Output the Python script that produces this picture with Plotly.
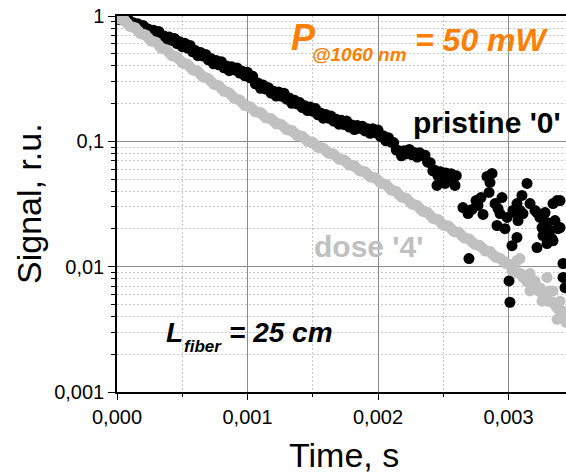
import plotly.graph_objects as go

FONT = "Liberation Sans, Arial, sans-serif"

# ---------------- data (time in s, signal in r.u.) ----------------
time_s = [
    0.00000, 0.00002, 0.00004, 0.00006, 0.00008, 0.00010, 0.00012, 0.00014, 0.00016, 0.00018,
    0.00020, 0.00022, 0.00024, 0.00026, 0.00028, 0.00030, 0.00032, 0.00034, 0.00036, 0.00038,
    0.00040, 0.00042, 0.00044, 0.00046, 0.00048, 0.00050, 0.00052, 0.00054, 0.00056, 0.00058,
    0.00060, 0.00062, 0.00064, 0.00066, 0.00068, 0.00070, 0.00072, 0.00074, 0.00076, 0.00078,
    0.00080, 0.00082, 0.00084, 0.00086, 0.00088, 0.00090, 0.00092, 0.00094, 0.00096, 0.00098,
    0.00100, 0.00102, 0.00104, 0.00106, 0.00108, 0.00110, 0.00112, 0.00114, 0.00116, 0.00118,
    0.00120, 0.00122, 0.00124, 0.00126, 0.00128, 0.00130, 0.00132, 0.00134, 0.00136, 0.00138,
    0.00140, 0.00142, 0.00144, 0.00146, 0.00148, 0.00150, 0.00152, 0.00154, 0.00156, 0.00158,
    0.00160, 0.00162, 0.00164, 0.00166, 0.00168, 0.00170, 0.00172, 0.00174, 0.00176, 0.00178,
    0.00180, 0.00182, 0.00184, 0.00186, 0.00188, 0.00190, 0.00192, 0.00194, 0.00196, 0.00198,
    0.00200, 0.00202, 0.00204, 0.00206, 0.00208, 0.00210, 0.00212, 0.00214, 0.00216, 0.00218,
    0.00220, 0.00222, 0.00224, 0.00226, 0.00228, 0.00230, 0.00232, 0.00234, 0.00236, 0.00238,
    0.00240, 0.00242, 0.00244, 0.00246, 0.00248, 0.00250, 0.00252, 0.00254, 0.00256, 0.00258,
    0.00260, 0.00262, 0.00264, 0.00266, 0.00268, 0.00270, 0.00272, 0.00274, 0.00276, 0.00278,
    0.00280, 0.00282, 0.00284, 0.00286, 0.00288, 0.00290, 0.00292, 0.00294, 0.00296, 0.00298,
    0.00300, 0.00302, 0.00304, 0.00306, 0.00308, 0.00310, 0.00312, 0.00314, 0.00316, 0.00318,
    0.00320, 0.00322, 0.00324, 0.00326, 0.00328, 0.00330, 0.00332, 0.00334, 0.00336, 0.00338,
    0.00340, 0.00342, 0.00344]

# pristine '0' (black): dense part of the decay, sampled on time_s up to 0.0026 s
pristine_signal = [
    1.000, 0.934, 0.998, 0.920, 0.968, 0.865, 0.889, 0.813, 0.867, 0.815,
    0.841, 0.766, 0.787, 0.719, 0.771, 0.711, 0.752, 0.671, 0.693, 0.634,
    0.679, 0.638, 0.662, 0.603, 0.622, 0.569, 0.605, 0.555, 0.582, 0.518,
    0.530, 0.482, 0.512, 0.479, 0.493, 0.446, 0.457, 0.416, 0.442, 0.408,
    0.432, 0.386, 0.400, 0.366, 0.393, 0.371, 0.385, 0.351, 0.363, 0.333,
    0.355, 0.321, 0.330, 0.288, 0.292, 0.265, 0.281, 0.261, 0.268, 0.243,
    0.251, 0.230, 0.247, 0.229, 0.242, 0.217, 0.222, 0.201, 0.213, 0.199,
    0.204, 0.186, 0.192, 0.176, 0.188, 0.174, 0.183, 0.163, 0.168, 0.153,
    0.164, 0.153, 0.159, 0.145, 0.150, 0.137, 0.147, 0.136, 0.145, 0.130,
    0.135, 0.124, 0.134, 0.127, 0.132, 0.121, 0.126, 0.116, 0.126, 0.117,
    0.123, 0.109, 0.111, 0.101, 0.107, 0.0984, 0.0977, 0.0853, 0.0843, 0.0767,
    0.0841, 0.0796, 0.0861, 0.0780, 0.0813, 0.0750, 0.0809, 0.0767, 0.0776, 0.0682,
    0.0676, 0.0582, 0.0585, 0.0527, 0.0573, 0.0527, 0.0560, 0.0518, 0.0552, 0.0516,
    0.0532]

# pristine '0' (black): noisy tail
pristine_tail_t = [0.002452, 0.002514, 0.002575, 0.002590, 0.002651, 0.002690, 0.002697, 0.002720,
                   0.002751, 0.002766, 0.002789, 0.002805, 0.002835, 0.002851, 0.002858, 0.002874,
                   0.002897, 0.002912, 0.002920, 0.002935, 0.002950, 0.002973, 0.002989, 0.003004,
                   0.003011, 0.003027, 0.003034, 0.003050, 0.003065, 0.003065, 0.003073, 0.003088,
                   0.003103, 0.003111, 0.003142, 0.003165, 0.003203, 0.003218, 0.003218, 0.003241,
                   0.003257, 0.003264, 0.003280, 0.003280, 0.003295, 0.003295, 0.003318, 0.003333,
                   0.003341, 0.003341, 0.003356, 0.003372, 0.003379, 0.003395, 0.003395, 0.003418,
                   0.003418, 0.003433]
pristine_tail_v = [0.0445, 0.0461, 0.0535, 0.0445, 0.0296, 0.0265, 0.0116, 0.0286,
                   0.0337, 0.0308, 0.0356, 0.0261, 0.0525, 0.0391, 0.0470, 0.0555,
                   0.0319, 0.0213, 0.0291, 0.0265, 0.0356, 0.0201, 0.0247, 0.0077,
                   0.0052, 0.0147, 0.0281, 0.0270, 0.0171, 0.0319, 0.0233, 0.0281,
                   0.0370, 0.0265, 0.0461, 0.0319, 0.0281, 0.0270, 0.0142, 0.0247,
                   0.0205, 0.0177, 0.0270, 0.0184, 0.0153, 0.0225, 0.0194, 0.0167,
                   0.0161, 0.0319, 0.0233, 0.0337, 0.0201, 0.0337, 0.0205, 0.0106,
                   0.0082, 0.0068]

# dose '4' (grey), sampled on time_s
dose_signal = [
    1.000, 0.948, 0.935, 0.922, 0.874, 0.828, 0.817, 0.806, 0.764, 0.724,
    0.715, 0.705, 0.668, 0.633, 0.625, 0.616, 0.584, 0.553, 0.546, 0.539,
    0.511, 0.484, 0.477, 0.471, 0.446, 0.423, 0.418, 0.412, 0.391, 0.371,
    0.366, 0.362, 0.343, 0.326, 0.322, 0.317, 0.301, 0.286, 0.282, 0.278,
    0.264, 0.251, 0.248, 0.244, 0.232, 0.220, 0.217, 0.214, 0.203, 0.193,
    0.191, 0.189, 0.180, 0.172, 0.171, 0.170, 0.162, 0.154, 0.153, 0.152,
    0.145, 0.138, 0.138, 0.136, 0.130, 0.124, 0.123, 0.122, 0.117, 0.111,
    0.111, 0.110, 0.105, 0.100, 0.0992, 0.0985, 0.0940, 0.0897, 0.0890, 0.0883,
    0.0843, 0.0804, 0.0798, 0.0793, 0.0756, 0.0721, 0.0716, 0.0711, 0.0678, 0.0647,
    0.0642, 0.0638, 0.0608, 0.0580, 0.0576, 0.0572, 0.0546, 0.0520, 0.0517, 0.0513,
    0.0490, 0.0465, 0.0459, 0.0454, 0.0431, 0.0409, 0.0404, 0.0399, 0.0378, 0.0359,
    0.0355, 0.0350, 0.0332, 0.0316, 0.0312, 0.0308, 0.0292, 0.0277, 0.0274, 0.0270,
    0.0257, 0.0243, 0.0240, 0.0238, 0.0226, 0.0215, 0.0213, 0.0211, 0.0201, 0.0191,
    0.0189, 0.0188, 0.0178, 0.0170, 0.0168, 0.0166, 0.0158, 0.0151, 0.0149, 0.0148,
    0.0141, 0.0134, 0.0133, 0.0132, 0.0125, 0.0119, 0.0118, 0.0116, 0.0111, 0.0106,
    0.0105, 0.0103, 0.0096, 0.0090, 0.0089, 0.0087, 0.0081, 0.0076, 0.0075, 0.0073,
    0.0069, 0.0065, 0.0063, 0.0061, 0.0058, 0.0054, 0.0053, 0.0052, 0.0049, 0.0046,
    0.0045, 0.0044, 0.0041]
dose_tail_t = [0.002973, 0.003027, 0.003065, 0.003088, 0.003111, 0.003142, 0.003165, 0.003165,
               0.003203, 0.003241, 0.003257, 0.003295, 0.003303, 0.003318, 0.003341, 0.003372,
               0.003372, 0.003395, 0.003418, 0.003441]
dose_tail_v = [0.0108, 0.0093, 0.0112, 0.0116, 0.0082, 0.0085, 0.0088, 0.0064,
               0.0077, 0.0068, 0.0053, 0.0082, 0.0053, 0.0064, 0.0064, 0.0047,
               0.0038, 0.0053, 0.0043, 0.0036]

x_tick_vals = [0.0, 0.001, 0.002, 0.003]
x_tick_text = ["0,000", "0,001", "0,002", "0,003"]
y_tick_vals = [0.001, 0.01, 0.1, 1]
y_tick_text = ["0,001", "0,01", "0,1", "1"]
y_minor_vals = [k * d for d in (0.001, 0.01, 0.1) for k in range(2, 10)]

BLACK = "#000000"
GREY = "#c0c0c0"
ORANGE = "#ff8000"
MSIZE = 11

# ---------------- figure ----------------
fig = go.Figure()
fig.add_trace(go.Scatter(
    x=time_s[:len(pristine_signal)] + pristine_tail_t,
    y=pristine_signal + pristine_tail_v, mode="markers",
    marker=dict(size=MSIZE, color=BLACK, line=dict(width=0)), showlegend=False))
fig.add_trace(go.Scatter(
    x=time_s + dose_tail_t, y=dose_signal + dose_tail_v, mode="markers",
    marker=dict(size=MSIZE, color=GREY, line=dict(width=0)), showlegend=False))

L, R, T, B = 117, 0, 16, 83
PW, PH = 566 - L - R, 475 - T - B


def px(xp):
    return (xp - L) / PW


def py(yp):
    return (475 - B - yp) / PH


def ann(text, xp, yp, size, color, weight="bold", style="italic", anchor="left"):
    fig.add_annotation(text=text, x=px(xp), y=py(yp), xref="paper", yref="paper",
                       xanchor=anchor, yanchor="middle", showarrow=False,
                       font=dict(family=FONT, size=size, color=color, weight=weight, style=style))


ann("P", 289, 38, 36, ORANGE)
ann("@1060 nm", 310, 55, 19, ORANGE)
ann("= 50 mW", 413, 40, 32, ORANGE)
ann("pristine '0'", 411, 122, 30, BLACK, style="normal")
ann("dose '4'", 312, 247, 30, GREY, style="normal")
ann("L", 164, 332, 28, BLACK)
ann("fiber", 182, 346, 17, BLACK)
ann("= 25 cm", 227, 332, 28, BLACK)

fig.add_annotation(text="Time, s", x=px(344), y=py(455), xref="paper", yref="paper",
                   xanchor="center", yanchor="middle", showarrow=False,
                   font=dict(family=FONT, size=34, color=BLACK))
fig.add_annotation(text="Signal, r.u.", x=px(29), y=py(204), xref="paper", yref="paper",
                   xanchor="center", yanchor="middle", showarrow=False, textangle=-90,
                   font=dict(family=FONT, size=34, color=BLACK))

fig.update_layout(
    width=566, height=475,
    margin=dict(l=L, r=R, t=T, b=B),
    paper_bgcolor="white", plot_bgcolor="white",
    font=dict(family=FONT, size=20, color=BLACK),
    showlegend=False,
)
fig.update_xaxes(
    range=[0, 0.0034406], tickmode="array", tickvals=x_tick_vals, ticktext=x_tick_text,
    ticks="outside", ticklen=6, tickwidth=1.2, tickcolor=BLACK,
    showline=True, linecolor=BLACK, linewidth=1.5, mirror=True,
    showgrid=True, gridcolor="#8c8c8c", gridwidth=1, zeroline=False,
    tickfont=dict(size=20),
    minor=dict(tickmode="linear", tick0=0, dtick=0.0005, ticks="outside", ticklen=3,
               tickcolor=BLACK, showgrid=True, gridcolor="#c8c8c8", griddash="2px,2px"),
)
fig.update_yaxes(
    type="log", range=[-3, 0], tickmode="array", tickvals=y_tick_vals, ticktext=y_tick_text,
    ticks="outside", ticklen=7, tickwidth=1.2, tickcolor=BLACK,
    showline=True, linecolor=BLACK, linewidth=1.5, mirror=False,
    showgrid=True, gridcolor="#8c8c8c", gridwidth=1, zeroline=False,
    tickfont=dict(size=20),
    minor=dict(tickmode="array", tickvals=y_minor_vals, ticks="outside", ticklen=4,
               tickcolor=BLACK, showgrid=True, gridcolor="#c8c8c8", griddash="2px,2px"),
)

fig.write_html("out.html")
